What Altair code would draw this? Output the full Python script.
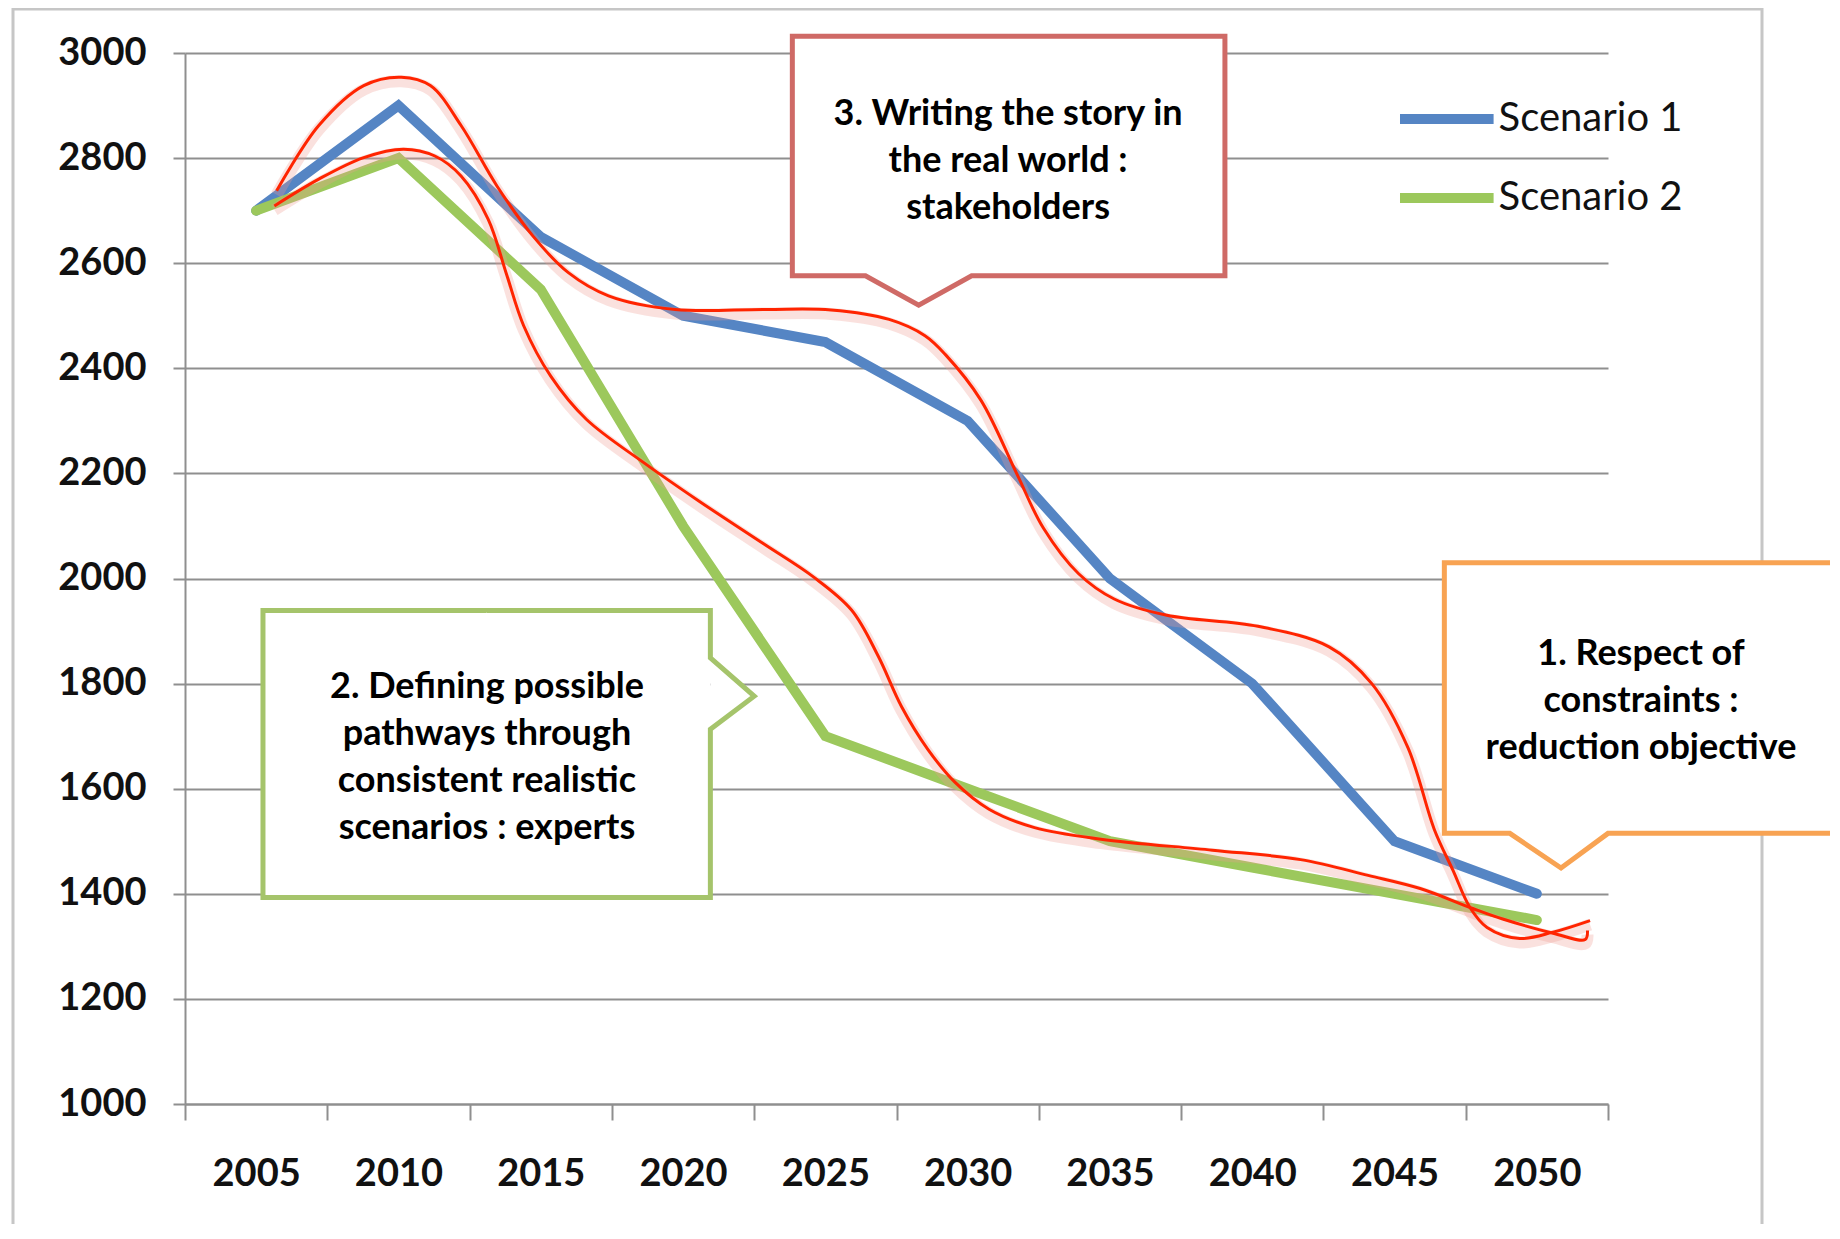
import altair as alt
import pandas as pd

# ---------------- data ----------------
years = [2005, 2010, 2015, 2020, 2025, 2030, 2035, 2040, 2045, 2050]
scenario_1 = [2700, 2900, 2650, 2500, 2450, 2300, 2000, 1800, 1500, 1400]
scenario_2 = [2700, 2800, 2550, 2100, 1700, 1600, 1500, 1450, 1400, 1350]
series_names = ["Scenario 1", "Scenario 2"]
series_colors = ["#5585c4", "#9cc85c"]

y_ticks = [1000, 1200, 1400, 1600, 1800, 2000, 2200, 2400, 2600, 2800, 3000]
x_category_edges = [2002.5, 2007.5, 2012.5, 2017.5, 2022.5, 2027.5,
                    2032.5, 2037.5, 2042.5, 2047.5, 2052.5]

# hand-drawn red envelope curves
upper_year = [2005.72, 2007.2, 2008.78, 2010.1, 2011.12, 2012.2, 2013.46, 2014.72,
              2015.97, 2017.38, 2019.72, 2022.85, 2025.2, 2027.24, 2028.5, 2029.22,
              2030.47, 2031.72, 2032.66, 2033.9, 2035.15, 2037.0, 2040.2, 2042.7,
              2044.2, 2045.47, 2046.4, 2047.05, 2047.65, 2048.25, 2049.4, 2050.57,
              2051.87]
upper_value = [2738, 2862, 2938, 2954, 2938, 2862, 2747, 2652,
               2582, 2538, 2512, 2512, 2511, 2493, 2462, 2426,
               2339, 2200, 2096, 2009, 1961, 1930, 1909, 1870,
               1800, 1678, 1522, 1445, 1374, 1336, 1315, 1327,
               1349]
lower_year = [2005.64, 2007.2, 2008.78, 2010.18, 2011.28, 2012.2, 2013.15, 2013.78,
              2014.4, 2015.35, 2016.6, 2018.63, 2020.54, 2022.83, 2024.58, 2025.92,
              2026.86, 2027.67, 2028.6, 2029.56, 2030.75, 2032.35, 2034.68, 2038.6,
              2041.7, 2044.07, 2045.9, 2047.75, 2048.8, 2050.57, 2051.7, 2051.78]
lower_value = [2709, 2760, 2801, 2817, 2804, 2766, 2684, 2582,
               2481, 2385, 2303, 2220, 2148, 2066, 2003, 1940,
               1852, 1757, 1675, 1612, 1561, 1526, 1504, 1483,
               1465, 1435, 1410, 1372, 1352, 1325, 1313, 1330]

# callouts: text, colour, box (left, right, top, bottom) and pointer in data units
callout_texts = [
    "3. Writing the story in\nthe real world :\nstakeholders",
    "2. Defining possible\npathways through\nconsistent realistic\nscenarios : experts",
    "1. Respect of\nconstraints :\nreduction objective",
]
callout_colors = ["#cf6a66", "#a5c46b", "#f8a353"]
callout_boxes = [
    (2023.84, 2039.04, 3032, 2576),
    (2005.24, 2020.96, 1939, 1393),
    (2046.75, 2060.45, 2030, 1515),
]
callout_pointer_side = ["bottom", "right", "bottom"]
# pointer: (base start, apex x, apex y, base end)
callout_pointers = [
    (2026.41, 2028.28, 2520, 2030.14),
    (1849, 2022.5, 1776, 1713),
    (2049.05, 2050.85, 1449, 2052.5),
]
# centre of the first text line of each callout
callout_text_pos = [(2031.42, 2884), (2013.11, 1794), (2053.66, 1856)]

# ---------------- geometry / style ----------------
W, H = 1423, 1051
FONT = "Lato"
GRID = "#8f8f8f"
xscale = alt.Scale(domain=[2002.5, 2052.5], nice=False, zero=False)
yscale = alt.Scale(domain=[1000, 3000], nice=False, zero=False)
half_band_px = W / 50 * 2.5


def X(field="year", **kw):
    return alt.X(f"{field}:Q", scale=xscale, title=None, **kw)


def Y(field="value", **kw):
    return alt.Y(f"{field}:Q", scale=yscale, title=None, **kw)


series_df = pd.DataFrame({
    "year": years * 2,
    "value": scenario_1 + scenario_2,
    "series": [series_names[0]] * len(years) + [series_names[1]] * len(years),
})

lines = alt.Chart(series_df).mark_line(strokeWidth=10, strokeCap="round").encode(
    x=X(axis=alt.Axis(
        values=x_category_edges,
        labelExpr="datum.value < 2050 ? format(datum.value + 2.5, 'd') : ''",
        labelOffset=half_band_px, labelFont=FONT, labelFontSize=38,
        labelFontWeight="bold", labelColor="#111111", labelPadding=35,
        labelOverlap=False, labelFlush=False, labelBound=False,
        tickSize=16, tickWidth=2, tickColor=GRID,
        domainColor=GRID, domainWidth=2, grid=False)),
    y=Y(axis=alt.Axis(
        values=y_ticks, format="d", labelFont=FONT, labelFontSize=38,
        labelFontWeight="bold", labelColor="#111111", labelPadding=27,
        tickSize=12, tickWidth=2, tickColor=GRID,
        domainColor=GRID, domainWidth=2,
        grid=True, gridColor=GRID, gridWidth=2)),
    color=alt.Color("series:N",
                    scale=alt.Scale(domain=series_names, range=series_colors),
                    legend=alt.Legend(
                        orient="none", legendX=1225.6, legendY=22, title=None,
                        symbolType="M-1.4,0H1", symbolSize=6084,
                        symbolStrokeWidth=10, labelFont=FONT, labelFontSize=40,
                        labelColor="#111111", labelOffset=0, labelLimit=0,
                        rowPadding=15, padding=0)),
)

red_df = pd.DataFrame({
    "year": upper_year + lower_year,
    "value": upper_value + lower_value,
    "i": list(range(len(upper_year))) + list(range(len(lower_year))),
    "curve": ["upper"] * len(upper_year) + ["lower"] * len(lower_year),
})
red_glow = alt.Chart(red_df).mark_line(
    color="#f09a92", strokeWidth=12, opacity=0.3,
    interpolate="catmull-rom", yOffset=4
).encode(x=X(), y=Y(), detail="curve:N", order="i:Q")
red_lines = alt.Chart(red_df).mark_line(
    color="#ff2400", strokeWidth=3, interpolate="catmull-rom"
).encode(x=X(), y=Y(), detail="curve:N", order="i:Q")

callout_layers = []
for k in range(len(callout_texts)):
    x0, x1, yt, yb = callout_boxes[k]
    p = callout_pointers[k]
    col = callout_colors[k]
    xm = (x0 + x1) / 2
    box_df = pd.DataFrame({"year": [x0], "year2": [x1], "value": [yt], "value2": [yb]})
    box = alt.Chart(box_df).mark_rect(fill="white").encode(
        x=X(), x2="year2:Q", y=Y(), y2="value2:Q")
    if callout_pointer_side[k] == "bottom":
        bl, ax, ay, br = p
        tri_df = pd.DataFrame({"year": [bl, ax, br], "value": [yb, ay, yb],
                               "base": [yb, yb, yb]})
        tri = alt.Chart(tri_df).mark_area(fill="white").encode(
            x=X(), y=Y(), y2="base:Q")
        pts = [(xm, yt), (x1, yt), (x1, yb), (br, yb), (ax, ay), (bl, yb),
               (x0, yb), (x0, yt), (xm, yt)]
    else:
        bt, ax, ay, bb = p
        tri_df = pd.DataFrame({"year": [x1, ax, x1], "value": [bt, ay, bb],
                               "base": [x1, x1, x1]})
        tri = alt.Chart(tri_df).mark_area(fill="white", orient="horizontal").encode(
            x=X(), x2="base:Q", y=Y())
        pts = [(xm, yt), (x1, yt), (x1, bt), (ax, ay), (x1, bb), (x1, yb),
               (x0, yb), (x0, yt), (xm, yt)]
    out_df = pd.DataFrame({"year": [q[0] for q in pts], "value": [q[1] for q in pts],
                           "i": list(range(len(pts)))})
    outline = alt.Chart(out_df).mark_line(
        color=col, strokeWidth=5, strokeJoin="miter"
    ).encode(x=X(), y=Y(), order="i:Q")
    tx, ty = callout_text_pos[k]
    txt_df = pd.DataFrame({"year": [tx], "value": [ty], "label": [callout_texts[k]]})
    txt = alt.Chart(txt_df).mark_text(
        font=FONT, fontSize=36, fontWeight="bold", lineHeight=47,
        align="center", baseline="middle", lineBreak="\n", color="#000000"
    ).encode(x=X(), y=Y(), text="label:N")
    callout_layers += [box, tri, outline, txt]

frame = alt.Chart(pd.DataFrame({"a": [0]})).mark_rect(
    fillOpacity=0, stroke="#c6c6c6", strokeWidth=3
).encode(x=alt.value(-172), x2=alt.value(1577), y=alt.value(-44), y2=alt.value(1200))

chart = alt.layer(frame, lines, red_glow, red_lines, *callout_layers).properties(
    width=W, height=H,
    autosize=alt.AutoSizeParams(type="none"),
    padding={"left": 177, "top": 45, "right": 222, "bottom": 120},
    background="white",
).configure_view(stroke=None)

chart.save("out.html", embed_options={"renderer": "svg", "actions": False})
